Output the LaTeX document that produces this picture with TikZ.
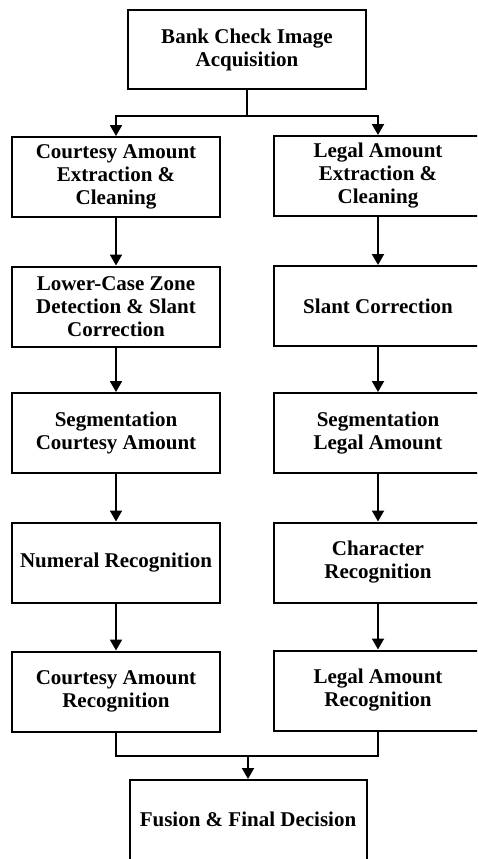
\documentclass[tikz,border=0pt]{standalone}
\usepackage{fontspec}
\setmainfont{Liberation Serif}
\usetikzlibrary{arrows.meta}
\begin{document}
\begin{tikzpicture}[x=1pt,y=-1pt,
  stepbox/.style={draw, line width=2pt, rectangle, align=center,
    font=\bfseries\fontsize{21}{23}\selectfont, inner sep=0pt},
  colbox/.style={stepbox, minimum width=208pt, minimum height=80pt},
  flow/.style={line width=2pt, -{Triangle[length=11pt,width=12pt]}},
  link/.style={line width=2pt}]
\useasboundingbox (0,0) rectangle (477,859);
\fill[white] (0,0) rectangle (477,859);
\clip (0,0) rectangle (477,859);
% nodes
\node[stepbox, minimum width=238pt, minimum height=79pt] (acq) at (247,49.5) {Bank Check Image\\Acquisition};
\node[colbox] (L1) at (116,177) {Courtesy Amount\\Extraction \&\\Cleaning};
\node[colbox] (R1) at (378,176) {Legal Amount\\Extraction \&\\Cleaning};
\node[colbox] (L2) at (116,306.5) {Lower-Case Zone\\Detection \& Slant\\Correction};
\node[colbox] (R2) at (378,306) {Slant Correction};
\node[colbox] (L3) at (116,433) {Segmentation\\Courtesy Amount};
\node[colbox] (R3) at (378,433) {Segmentation\\Legal Amount};
\node[colbox] (L4) at (116,562.5) {Numeral Recognition};
\node[colbox] (R4) at (378,562.5) {Character\\Recognition};
\node[colbox] (L5) at (116,691.5) {Courtesy Amount\\Recognition};
\node[colbox] (R5) at (378,690.5) {Legal Amount\\Recognition};
\node[stepbox, minimum width=237pt, minimum height=100pt, text depth=21pt] (fin) at (248,830) {Fusion \& Final Decision};
% connectors
\draw[link] (acq.south) -- ++(0,26) coordinate (split);
\draw[flow] (split) -| (L1.north);
\draw[flow] (split) -| (R1.north);
\draw[flow] (L1) -- (L2);
\draw[flow] (L2) -- (L3);
\draw[flow] (L3) -- (L4);
\draw[flow] (L4) -- (L5);
\draw[flow] (R1) -- (R2);
\draw[flow] (R2) -- (R3);
\draw[flow] (R3) -- (R4);
\draw[flow] (R4) -- (R5);
\coordinate (merge) at (248,756);
\draw[link] (L5.south) |- (merge);
\draw[link] (R5.south) |- (merge);
\draw[flow] (merge) -- (fin.north);
\end{tikzpicture}
\end{document}
